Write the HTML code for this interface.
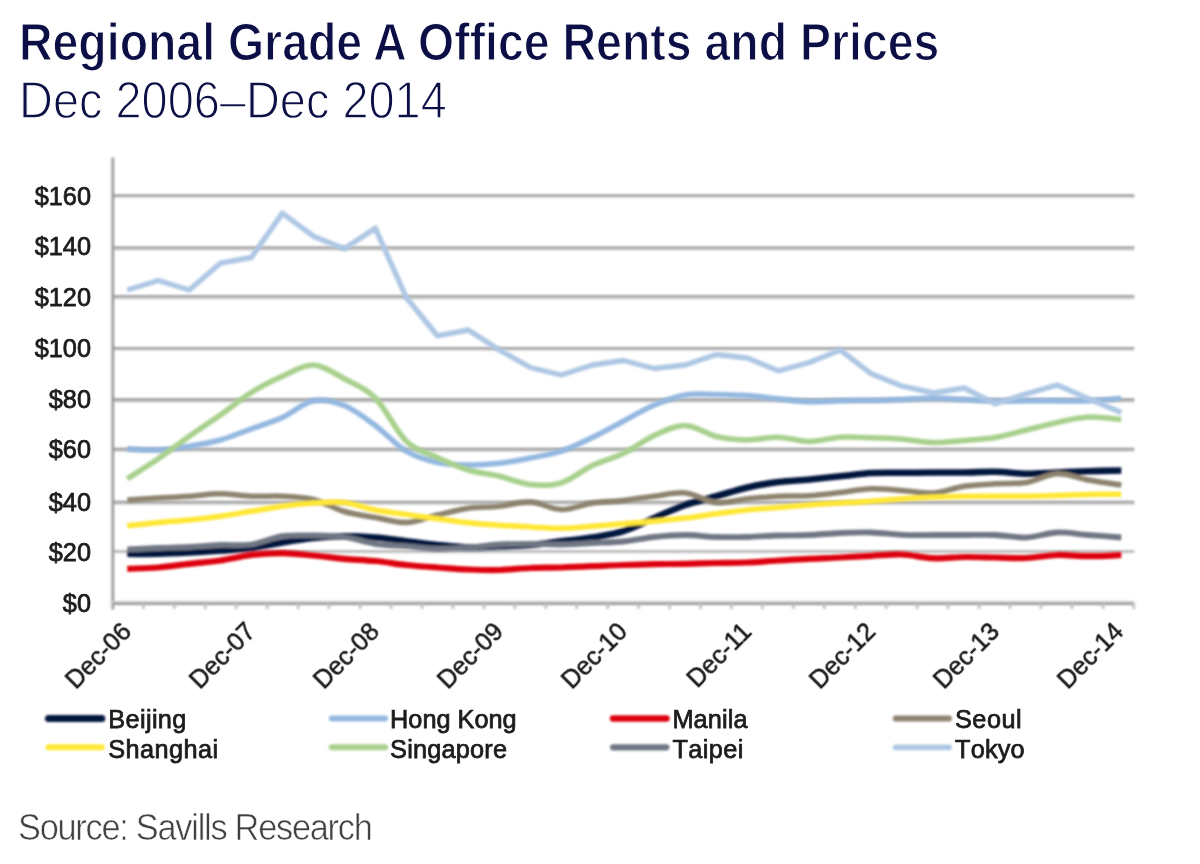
<!DOCTYPE html>
<html><head><meta charset="utf-8"><title>Regional Grade A Office Rents and Prices</title>
<style>
html,body{margin:0;padding:0;background:#fff;}
body{width:1200px;height:864px;position:relative;overflow:hidden;font-family:"Liberation Sans",sans-serif;}
#chart{position:absolute;left:0;top:0;}
.t{position:absolute;white-space:nowrap;line-height:1;}
#title{left:18.5px;top:17.4px;font-size:51px;font-weight:bold;color:#0b0f45;letter-spacing:0;-webkit-text-stroke:1.2px #fff;transform:scaleX(0.9105);transform-origin:0 0;}
#sub{left:18.8px;top:75.1px;font-size:51.5px;color:#0b0f45;letter-spacing:0;-webkit-text-stroke:1.3px #fff;transform:scaleX(0.911);transform-origin:0 0;}
#src{left:17.8px;top:809.7px;font-size:36px;color:#414141;letter-spacing:-1.3px;-webkit-text-stroke:0.6px #fff;transform:scaleX(0.953);transform-origin:0 0;}
.yl{font-size:25.3px;color:#1c1c1c;width:80px;text-align:right;left:11px;filter:blur(0.65px);-webkit-text-stroke:0.75px #1c1c1c;}
.xl{font-size:25px;color:#1c1c1c;transform-origin:100% 100%;transform:rotate(-45deg);filter:blur(0.6px);-webkit-text-stroke:0.55px #1c1c1c;}
.lg{font-kerning:none;font-size:25.3px;color:#1c1c1c;filter:blur(0.65px);-webkit-text-stroke:0.75px #1c1c1c;}
</style></head><body>

<svg id="chart" width="1200" height="864" viewBox="0 0 1200 864">
<g filter="url(#soft)">
<line x1="113.0" y1="197.6" x2="1134.3" y2="197.6" stroke="#ececec" stroke-width="2"/>
<line x1="113.0" y1="195.6" x2="1134.3" y2="195.6" stroke="#8e8e8e" stroke-width="2.2"/>
<line x1="113.0" y1="249.65" x2="1134.3" y2="249.65" stroke="#d8d8d8" stroke-width="2"/>
<line x1="113.0" y1="247.6" x2="1134.3" y2="247.6" stroke="#949494" stroke-width="2.3"/>
<line x1="113.0" y1="298.24999999999994" x2="1134.3" y2="298.24999999999994" stroke="#c6c6c6" stroke-width="2"/>
<line x1="113.0" y1="296.2" x2="1134.3" y2="296.2" stroke="#a2a2a2" stroke-width="2.3"/>
<line x1="113.0" y1="350.3" x2="1134.3" y2="350.3" stroke="#ececec" stroke-width="2"/>
<line x1="113.0" y1="348.3" x2="1134.3" y2="348.3" stroke="#8e8e8e" stroke-width="2.2"/>
<line x1="113.0" y1="401.54999999999995" x2="1134.3" y2="401.54999999999995" stroke="#cecece" stroke-width="2"/>
<line x1="113.0" y1="399.5" x2="1134.3" y2="399.5" stroke="#989898" stroke-width="2.3"/>
<line x1="113.0" y1="450.84999999999997" x2="1134.3" y2="450.84999999999997" stroke="#cacaca" stroke-width="2"/>
<line x1="113.0" y1="448.8" x2="1134.3" y2="448.8" stroke="#9e9e9e" stroke-width="2.3"/>
<line x1="113.0" y1="503.84999999999997" x2="1134.3" y2="503.84999999999997" stroke="#cacaca" stroke-width="2"/>
<line x1="113.0" y1="501.8" x2="1134.3" y2="501.8" stroke="#a0a0a0" stroke-width="2.3"/>
<line x1="113.0" y1="553.1999999999999" x2="1134.3" y2="553.1999999999999" stroke="#f0f0f0" stroke-width="2"/>
<line x1="113.0" y1="551.4" x2="1134.3" y2="551.4" stroke="#989898" stroke-width="1.8"/>
<line x1="111.0" y1="157.5" x2="111.0" y2="609.5" stroke="#e6e6e6" stroke-width="2"/>
<line x1="113.0" y1="157.5" x2="113.0" y2="609.5" stroke="#8c8c8c" stroke-width="2.2"/>
<line x1="112.0" y1="602.0" x2="1134.3" y2="602.0" stroke="#c6c6c6" stroke-width="2.2"/>
<line x1="112.0" y1="604.0" x2="1134.3" y2="604.0" stroke="#969696" stroke-width="2.2"/>
<line x1="143.4" y1="604" x2="143.4" y2="609.0" stroke="#c6c6c6" stroke-width="3"/>
<line x1="174.4" y1="604" x2="174.4" y2="609.0" stroke="#c6c6c6" stroke-width="3"/>
<line x1="205.3" y1="604" x2="205.3" y2="609.0" stroke="#c6c6c6" stroke-width="3"/>
<line x1="236.3" y1="604" x2="236.3" y2="609.0" stroke="#c6c6c6" stroke-width="3"/>
<line x1="267.2" y1="604" x2="267.2" y2="609.0" stroke="#c6c6c6" stroke-width="3"/>
<line x1="298.2" y1="604" x2="298.2" y2="609.0" stroke="#c6c6c6" stroke-width="3"/>
<line x1="329.1" y1="604" x2="329.1" y2="609.0" stroke="#c6c6c6" stroke-width="3"/>
<line x1="360.1" y1="604" x2="360.1" y2="609.0" stroke="#c6c6c6" stroke-width="3"/>
<line x1="391.0" y1="604" x2="391.0" y2="609.0" stroke="#c6c6c6" stroke-width="3"/>
<line x1="422.0" y1="604" x2="422.0" y2="609.0" stroke="#c6c6c6" stroke-width="3"/>
<line x1="452.9" y1="604" x2="452.9" y2="609.0" stroke="#c6c6c6" stroke-width="3"/>
<line x1="483.9" y1="604" x2="483.9" y2="609.0" stroke="#c6c6c6" stroke-width="3"/>
<line x1="514.8" y1="604" x2="514.8" y2="609.0" stroke="#c6c6c6" stroke-width="3"/>
<line x1="545.8" y1="604" x2="545.8" y2="609.0" stroke="#c6c6c6" stroke-width="3"/>
<line x1="576.7" y1="604" x2="576.7" y2="609.0" stroke="#c6c6c6" stroke-width="3"/>
<line x1="607.7" y1="604" x2="607.7" y2="609.0" stroke="#c6c6c6" stroke-width="3"/>
<line x1="638.6" y1="604" x2="638.6" y2="609.0" stroke="#c6c6c6" stroke-width="3"/>
<line x1="669.6" y1="604" x2="669.6" y2="609.0" stroke="#c6c6c6" stroke-width="3"/>
<line x1="700.5" y1="604" x2="700.5" y2="609.0" stroke="#c6c6c6" stroke-width="3"/>
<line x1="731.5" y1="604" x2="731.5" y2="609.0" stroke="#c6c6c6" stroke-width="3"/>
<line x1="762.4" y1="604" x2="762.4" y2="609.0" stroke="#c6c6c6" stroke-width="3"/>
<line x1="793.4" y1="604" x2="793.4" y2="609.0" stroke="#c6c6c6" stroke-width="3"/>
<line x1="824.3" y1="604" x2="824.3" y2="609.0" stroke="#c6c6c6" stroke-width="3"/>
<line x1="855.3" y1="604" x2="855.3" y2="609.0" stroke="#c6c6c6" stroke-width="3"/>
<line x1="886.2" y1="604" x2="886.2" y2="609.0" stroke="#c6c6c6" stroke-width="3"/>
<line x1="917.2" y1="604" x2="917.2" y2="609.0" stroke="#c6c6c6" stroke-width="3"/>
<line x1="948.1" y1="604" x2="948.1" y2="609.0" stroke="#c6c6c6" stroke-width="3"/>
<line x1="979.1" y1="604" x2="979.1" y2="609.0" stroke="#c6c6c6" stroke-width="3"/>
<line x1="1010.0" y1="604" x2="1010.0" y2="609.0" stroke="#c6c6c6" stroke-width="3"/>
<line x1="1041.0" y1="604" x2="1041.0" y2="609.0" stroke="#c6c6c6" stroke-width="3"/>
<line x1="1071.9" y1="604" x2="1071.9" y2="609.0" stroke="#c6c6c6" stroke-width="3"/>
<line x1="1102.9" y1="604" x2="1102.9" y2="609.0" stroke="#c6c6c6" stroke-width="3"/>
<line x1="1133.8" y1="604" x2="1133.8" y2="609.0" stroke="#c6c6c6" stroke-width="3"/>
</g><g filter="url(#soft2)">
<path d="M127.3,553.8 C132.5,553.8 148.0,554.0 158.3,553.8 C168.6,553.5 179.0,553.0 189.3,552.5 C199.6,552.0 210.0,551.2 220.3,550.5 C230.6,549.8 241.0,549.3 251.3,548.0 C261.6,546.7 272.0,544.2 282.3,542.5 C292.6,540.8 303.0,539.0 313.3,538.0 C323.6,537.0 334.0,536.3 344.3,536.2 C354.6,536.2 365.0,536.7 375.3,537.5 C385.6,538.3 396.0,540.0 406.3,541.2 C416.6,542.5 427.0,544.0 437.3,545.0 C447.6,546.0 458.0,547.3 468.3,547.5 C478.6,547.7 489.0,546.7 499.3,546.2 C509.6,545.8 520.0,545.8 530.3,545.0 C540.6,544.2 551.0,542.5 561.3,541.2 C571.6,540.0 582.0,539.2 592.3,537.5 C602.6,535.8 613.0,534.5 623.3,531.2 C633.6,528.0 644.0,522.4 654.3,518.0 C664.6,513.6 675.0,508.6 685.3,505.0 C695.6,501.4 706.0,499.2 716.3,496.2 C726.6,493.3 737.0,489.9 747.3,487.5 C757.6,485.1 768.0,483.3 778.3,482.0 C788.6,480.7 799.0,480.5 809.3,479.5 C819.6,478.5 830.0,477.3 840.3,476.2 C850.6,475.2 861.0,473.6 871.3,473.0 C881.6,472.4 892.0,472.8 902.3,472.8 C912.6,472.7 923.0,472.5 933.3,472.5 C943.6,472.5 954.0,472.6 964.3,472.5 C974.6,472.4 985.0,471.5 995.3,471.8 C1005.6,472.0 1016.0,473.6 1026.3,473.8 C1036.6,473.9 1047.0,472.9 1057.3,472.5 C1067.6,472.1 1077.6,471.6 1088.3,471.2 C1099.0,470.9 1115.8,470.6 1121.3,470.5" fill="none" stroke="#03123c" stroke-width="6.6" stroke-linejoin="round" stroke-linecap="butt"/>
<path d="M127.3,448.8 C132.5,449.0 148.0,450.4 158.3,450.0 C168.6,449.6 179.0,447.9 189.3,446.2 C199.6,444.6 210.0,442.9 220.3,440.0 C230.6,437.1 241.0,432.5 251.3,428.8 C261.6,425.0 272.0,422.2 282.3,417.5 C292.6,412.8 303.0,402.8 313.3,400.8 C323.6,398.8 334.0,401.4 344.3,405.5 C354.6,409.6 365.0,417.9 375.3,425.5 C385.6,433.1 396.0,445.1 406.3,451.2 C416.6,457.4 427.0,460.2 437.3,462.5 C447.6,464.8 458.0,464.9 468.3,465.0 C478.6,465.1 489.0,464.4 499.3,463.2 C509.6,462.1 520.0,460.0 530.3,458.0 C540.6,456.0 551.0,454.7 561.3,451.2 C571.6,447.8 582.0,442.5 592.3,437.5 C602.6,432.5 613.0,426.7 623.3,421.2 C633.6,415.8 644.0,409.4 654.3,405.0 C664.6,400.6 675.0,396.8 685.3,395.0 C695.6,393.2 706.0,394.4 716.3,394.5 C726.6,394.6 737.0,394.8 747.3,395.5 C757.6,396.2 768.0,397.7 778.3,398.8 C788.6,399.8 799.0,401.4 809.3,401.8 C819.6,402.1 830.0,401.0 840.3,400.8 C850.6,400.5 861.0,400.7 871.3,400.5 C881.6,400.3 892.0,399.9 902.3,399.5 C912.6,399.1 923.0,398.0 933.3,398.0 C943.6,398.0 954.0,399.0 964.3,399.5 C974.6,400.0 985.0,401.0 995.3,401.2 C1005.6,401.5 1016.0,400.8 1026.3,400.8 C1036.6,400.7 1047.0,400.8 1057.3,400.8 C1067.6,400.8 1077.6,401.2 1088.3,400.8 C1099.0,400.3 1115.8,398.7 1121.3,398.2" fill="none" stroke="#94b8e0" stroke-width="5.5" stroke-linejoin="round" stroke-linecap="butt"/>
<path d="M127.3,568.8 C132.5,568.5 148.0,568.3 158.3,567.5 C168.6,566.7 179.0,564.9 189.3,563.8 C199.6,562.6 210.0,562.0 220.3,560.5 C230.6,559.0 241.0,556.2 251.3,555.0 C261.6,553.8 272.0,553.2 282.3,553.2 C292.6,553.3 303.0,554.6 313.3,555.5 C323.6,556.4 334.0,557.8 344.3,558.8 C354.6,559.7 365.0,560.0 375.3,561.0 C385.6,562.0 396.0,563.9 406.3,565.0 C416.6,566.1 427.0,566.8 437.3,567.5 C447.6,568.2 458.0,569.1 468.3,569.5 C478.6,569.9 489.0,570.2 499.3,570.0 C509.6,569.8 520.0,568.4 530.3,568.0 C540.6,567.6 551.0,567.8 561.3,567.5 C571.6,567.2 582.0,566.7 592.3,566.2 C602.6,565.8 613.0,565.3 623.3,565.0 C633.6,564.7 644.0,564.5 654.3,564.2 C664.6,564.0 675.0,564.0 685.3,563.8 C695.6,563.5 706.0,563.2 716.3,563.0 C726.6,562.8 737.0,562.9 747.3,562.5 C757.6,562.1 768.0,561.1 778.3,560.5 C788.6,559.9 799.0,559.2 809.3,558.8 C819.6,558.2 830.0,558.0 840.3,557.5 C850.6,557.0 861.0,556.3 871.3,555.8 C881.6,555.3 892.0,554.1 902.3,554.5 C912.6,554.9 923.0,557.8 933.3,558.2 C943.6,558.7 954.0,557.1 964.3,557.0 C974.6,556.9 985.0,557.3 995.3,557.5 C1005.6,557.7 1016.0,558.4 1026.3,558.0 C1036.6,557.6 1047.0,555.3 1057.3,555.0 C1067.6,554.7 1077.6,556.2 1088.3,556.2 C1099.0,556.2 1115.8,555.2 1121.3,555.0" fill="none" stroke="#dd000c" stroke-width="6.2" stroke-linejoin="round" stroke-linecap="butt"/>
<path d="M127.3,500.0 C132.5,499.7 148.0,498.6 158.3,498.0 C168.6,497.4 179.0,497.0 189.3,496.2 C199.6,495.5 210.0,493.8 220.3,493.8 C230.6,493.8 241.0,495.8 251.3,496.2 C261.6,496.7 272.0,495.7 282.3,496.2 C292.6,496.8 303.0,497.0 313.3,499.5 C323.6,502.0 334.0,508.5 344.3,511.5 C354.6,514.5 365.0,515.7 375.3,517.5 C385.6,519.3 396.0,522.9 406.3,522.5 C416.6,522.1 427.0,517.4 437.3,515.0 C447.6,512.6 458.0,509.7 468.3,508.2 C478.6,506.8 489.0,507.3 499.3,506.2 C509.6,505.2 520.0,501.5 530.3,502.0 C540.6,502.5 551.0,509.3 561.3,509.5 C571.6,509.7 582.0,504.5 592.3,503.0 C602.6,501.5 613.0,501.6 623.3,500.5 C633.6,499.4 644.0,497.5 654.3,496.2 C664.6,495.0 675.0,492.0 685.3,493.0 C695.6,494.0 706.0,501.5 716.3,502.5 C726.6,503.5 737.0,499.8 747.3,498.8 C757.6,497.7 768.0,496.8 778.3,496.2 C788.6,495.8 799.0,496.4 809.3,495.8 C819.6,495.1 830.0,493.7 840.3,492.5 C850.6,491.3 861.0,489.1 871.3,488.8 C881.6,488.4 892.0,489.8 902.3,490.5 C912.6,491.2 923.0,493.7 933.3,493.0 C943.6,492.3 954.0,487.8 964.3,486.2 C974.6,484.7 985.0,484.4 995.3,483.8 C1005.6,483.1 1016.0,484.2 1026.3,482.5 C1036.6,480.8 1047.0,474.2 1057.3,473.8 C1067.6,473.3 1077.6,478.1 1088.3,480.0 C1099.0,481.9 1115.8,484.2 1121.3,485.0" fill="none" stroke="#8d836e" stroke-width="5.5" stroke-linejoin="round" stroke-linecap="butt"/>
<path d="M127.3,525.8 C132.5,525.2 148.0,523.5 158.3,522.5 C168.6,521.5 179.0,521.0 189.3,520.0 C199.6,519.0 210.0,517.7 220.3,516.2 C230.6,514.8 241.0,512.9 251.3,511.2 C261.6,509.6 272.0,507.6 282.3,506.2 C292.6,504.9 303.0,503.6 313.3,503.0 C323.6,502.4 334.0,501.3 344.3,502.5 C354.6,503.7 365.0,508.0 375.3,510.0 C385.6,512.0 396.0,512.9 406.3,514.4 C416.6,515.9 427.0,517.3 437.3,518.7 C447.6,520.1 458.0,521.6 468.3,522.7 C478.6,523.8 489.0,524.5 499.3,525.2 C509.6,525.9 520.0,526.4 530.3,526.9 C540.6,527.4 551.0,528.4 561.3,528.3 C571.6,528.2 582.0,527.0 592.3,526.2 C602.6,525.5 613.0,524.6 623.3,523.8 C633.6,522.9 644.0,522.2 654.3,521.2 C664.6,520.3 675.0,519.2 685.3,518.0 C695.6,516.8 706.0,515.1 716.3,513.8 C726.6,512.4 737.0,511.0 747.3,510.0 C757.6,509.0 768.0,508.3 778.3,507.5 C788.6,506.7 799.0,505.8 809.3,505.0 C819.6,504.2 830.0,503.6 840.3,503.0 C850.6,502.4 861.0,502.0 871.3,501.2 C881.6,500.5 892.0,499.5 902.3,498.8 C912.6,498.0 923.0,497.4 933.3,497.0 C943.6,496.6 954.0,496.4 964.3,496.2 C974.6,496.1 985.0,496.2 995.3,496.2 C1005.6,496.2 1016.0,496.4 1026.3,496.2 C1036.6,496.1 1047.0,495.8 1057.3,495.5 C1067.6,495.2 1077.6,494.7 1088.3,494.5 C1099.0,494.3 1115.8,494.3 1121.3,494.2" fill="none" stroke="#ffe736" stroke-width="5.5" stroke-linejoin="round" stroke-linecap="butt"/>
<path d="M127.3,478.8 C132.5,475.4 148.0,465.8 158.3,458.8 C168.6,451.7 179.0,443.5 189.3,436.2 C199.6,429.0 210.0,422.3 220.3,415.0 C230.6,407.7 241.0,399.0 251.3,392.5 C261.6,386.0 272.0,380.8 282.3,376.2 C292.6,371.7 303.0,364.6 313.3,365.0 C323.6,365.4 334.0,373.2 344.3,378.8 C354.6,384.2 365.0,387.6 375.3,398.0 C385.6,408.4 396.0,431.3 406.3,441.2 C416.6,451.2 427.0,452.7 437.3,457.5 C447.6,462.3 458.0,466.9 468.3,470.0 C478.6,473.1 489.0,473.8 499.3,476.2 C509.6,478.7 520.0,483.4 530.3,484.5 C540.6,485.6 551.0,486.0 561.3,482.8 C571.6,479.6 582.0,470.4 592.3,465.5 C602.6,460.6 613.0,458.5 623.3,453.5 C633.6,448.5 644.0,440.2 654.3,435.5 C664.6,430.8 675.0,425.3 685.3,425.5 C695.6,425.7 706.0,434.1 716.3,436.5 C726.6,438.9 737.0,439.9 747.3,440.0 C757.6,440.1 768.0,437.0 778.3,437.2 C788.6,437.5 799.0,441.5 809.3,441.5 C819.6,441.5 830.0,437.9 840.3,437.2 C850.6,436.6 861.0,437.4 871.3,437.8 C881.6,438.1 892.0,438.5 902.3,439.2 C912.6,440.0 923.0,442.3 933.3,442.5 C943.6,442.7 954.0,441.3 964.3,440.5 C974.6,439.7 985.0,439.2 995.3,437.5 C1005.6,435.8 1016.0,432.5 1026.3,430.0 C1036.6,427.5 1047.0,424.7 1057.3,422.5 C1067.6,420.3 1077.6,417.5 1088.3,417.0 C1099.0,416.5 1115.8,419.1 1121.3,419.5" fill="none" stroke="#a8d08d" stroke-width="5.6" stroke-linejoin="round" stroke-linecap="butt"/>
<path d="M127.3,549.5 C132.5,549.2 148.0,548.4 158.3,548.0 C168.6,547.6 179.0,547.5 189.3,547.0 C199.6,546.5 210.0,545.4 220.3,545.0 C230.6,544.6 241.0,546.0 251.3,544.5 C261.6,543.0 272.0,537.8 282.3,536.2 C292.6,534.8 303.0,535.4 313.3,535.5 C323.6,535.6 334.0,535.6 344.3,537.0 C354.6,538.4 365.0,542.2 375.3,543.8 C385.6,545.3 396.0,545.4 406.3,546.2 C416.6,547.1 427.0,548.5 437.3,548.8 C447.6,549.0 458.0,548.2 468.3,547.5 C478.6,546.8 489.0,545.1 499.3,544.5 C509.6,543.9 520.0,543.8 530.3,543.8 C540.6,543.8 551.0,544.6 561.3,544.5 C571.6,544.4 582.0,543.5 592.3,543.0 C602.6,542.5 613.0,542.5 623.3,541.5 C633.6,540.5 644.0,538.1 654.3,537.0 C664.6,535.9 675.0,535.0 685.3,535.0 C695.6,535.0 706.0,536.7 716.3,537.0 C726.6,537.3 737.0,537.2 747.3,537.0 C757.6,536.8 768.0,535.8 778.3,535.5 C788.6,535.2 799.0,535.4 809.3,535.0 C819.6,534.6 830.0,533.4 840.3,533.0 C850.6,532.6 861.0,532.2 871.3,532.5 C881.6,532.8 892.0,534.3 902.3,534.8 C912.6,535.2 923.0,535.0 933.3,535.0 C943.6,535.0 954.0,535.0 964.3,535.0 C974.6,535.0 985.0,534.6 995.3,535.0 C1005.6,535.4 1016.0,537.9 1026.3,537.5 C1036.6,537.1 1047.0,532.9 1057.3,532.5 C1067.6,532.1 1077.6,534.2 1088.3,535.0 C1099.0,535.8 1115.8,537.1 1121.3,537.5" fill="none" stroke="#6f7683" stroke-width="5.8" stroke-linejoin="round" stroke-linecap="butt"/>
<path d="M127.3,290.0 L158.3,280.5 L189.3,290.0 L220.3,263.2 L251.3,257.5 L282.3,213.2 L313.3,236.2 L344.3,248.8 L375.3,228.2 L406.3,297.5 L437.3,335.8 L468.3,330.0 L499.3,350.0 L530.3,367.5 L561.3,375.0 L592.3,365.0 L623.3,360.5 L654.3,368.5 L685.3,365.0 L716.3,354.5 L747.3,358.0 L778.3,370.8 L809.3,362.5 L840.3,350.0 L871.3,373.8 L902.3,386.2 L933.3,393.0 L964.3,388.0 L995.3,403.8 L1026.3,393.8 L1057.3,385.0 L1088.3,398.8 L1121.3,412.5" fill="none" stroke="#aec7e4" stroke-width="5.4" stroke-linejoin="round" stroke-linecap="butt"/>
<line x1="48.5" y1="718.5" x2="101.8" y2="718.5" stroke="#03123c" stroke-width="7.0" stroke-linecap="round"/>
<line x1="331.8" y1="718.5" x2="385.1" y2="718.5" stroke="#94b8e0" stroke-width="5.9" stroke-linecap="round"/>
<line x1="613.1" y1="718.5" x2="666.4" y2="718.5" stroke="#dd000c" stroke-width="6.6000000000000005" stroke-linecap="round"/>
<line x1="895.7" y1="718.5" x2="949.0" y2="718.5" stroke="#8d836e" stroke-width="5.9" stroke-linecap="round"/>
<line x1="48.5" y1="747.3" x2="101.8" y2="747.3" stroke="#ffe736" stroke-width="5.9" stroke-linecap="round"/>
<line x1="331.8" y1="747.3" x2="385.1" y2="747.3" stroke="#a8d08d" stroke-width="6.0" stroke-linecap="round"/>
<line x1="613.1" y1="747.3" x2="666.4" y2="747.3" stroke="#6f7683" stroke-width="6.2" stroke-linecap="round"/>
<line x1="895.7" y1="747.3" x2="949.0" y2="747.3" stroke="#aec7e4" stroke-width="5.800000000000001" stroke-linecap="round"/>
</g>
<defs><filter id="soft" x="0" y="0" width="1200" height="864" filterUnits="userSpaceOnUse"><feGaussianBlur stdDeviation="0.8"/></filter><filter id="soft2" x="0" y="0" width="1200" height="864" filterUnits="userSpaceOnUse"><feGaussianBlur stdDeviation="1.0"/></filter></defs>
</svg>
<div class="t" id="title">Regional Grade A Office Rents and Prices</div>
<div class="t" id="sub">Dec 2006–Dec 2014</div>
<div class="t yl" style="top:184.3px">$160</div>
<div class="t yl" style="top:234.1px">$140</div>
<div class="t yl" style="top:285.3px">$120</div>
<div class="t yl" style="top:335.6px">$100</div>
<div class="t yl" style="top:386.9px">$80</div>
<div class="t yl" style="top:437.2px">$60</div>
<div class="t yl" style="top:489.9px">$40</div>
<div class="t yl" style="top:539.9px">$20</div>
<div class="t yl" style="top:591.2px">$0</div>
<div class="t xl" style="right:1064.7px;top:611.2px">Dec-06</div>
<div class="t xl" style="right:940.7px;top:611.2px">Dec-07</div>
<div class="t xl" style="right:816.7px;top:611.2px">Dec-08</div>
<div class="t xl" style="right:692.7px;top:611.2px">Dec-09</div>
<div class="t xl" style="right:568.7px;top:611.2px">Dec-10</div>
<div class="t xl" style="right:444.7px;top:611.2px">Dec-11</div>
<div class="t xl" style="right:320.7px;top:611.2px">Dec-12</div>
<div class="t xl" style="right:196.7px;top:611.2px">Dec-13</div>
<div class="t xl" style="right:72.7px;top:611.2px">Dec-14</div>
<div class="t lg" style="left:108.3px;top:706.5px;letter-spacing:0.35px">Beijing</div>
<div class="t lg" style="left:390.1px;top:706.5px;letter-spacing:0px">Hong Kong</div>
<div class="t lg" style="left:672.4px;top:706.5px;letter-spacing:0.15px">Manila</div>
<div class="t lg" style="left:955.0px;top:706.5px;letter-spacing:0.5px">Seoul</div>
<div class="t lg" style="left:108.3px;top:736.6px;letter-spacing:0.4px">Shanghai</div>
<div class="t lg" style="left:390.1px;top:736.6px;letter-spacing:0.2px">Singapore</div>
<div class="t lg" style="left:672.4px;top:736.6px;letter-spacing:0.4px">Taipei</div>
<div class="t lg" style="left:955.0px;top:736.6px;letter-spacing:0.2px">Tokyo</div>
<div class="t" id="src">Source: Savills Research</div>
</body></html>
